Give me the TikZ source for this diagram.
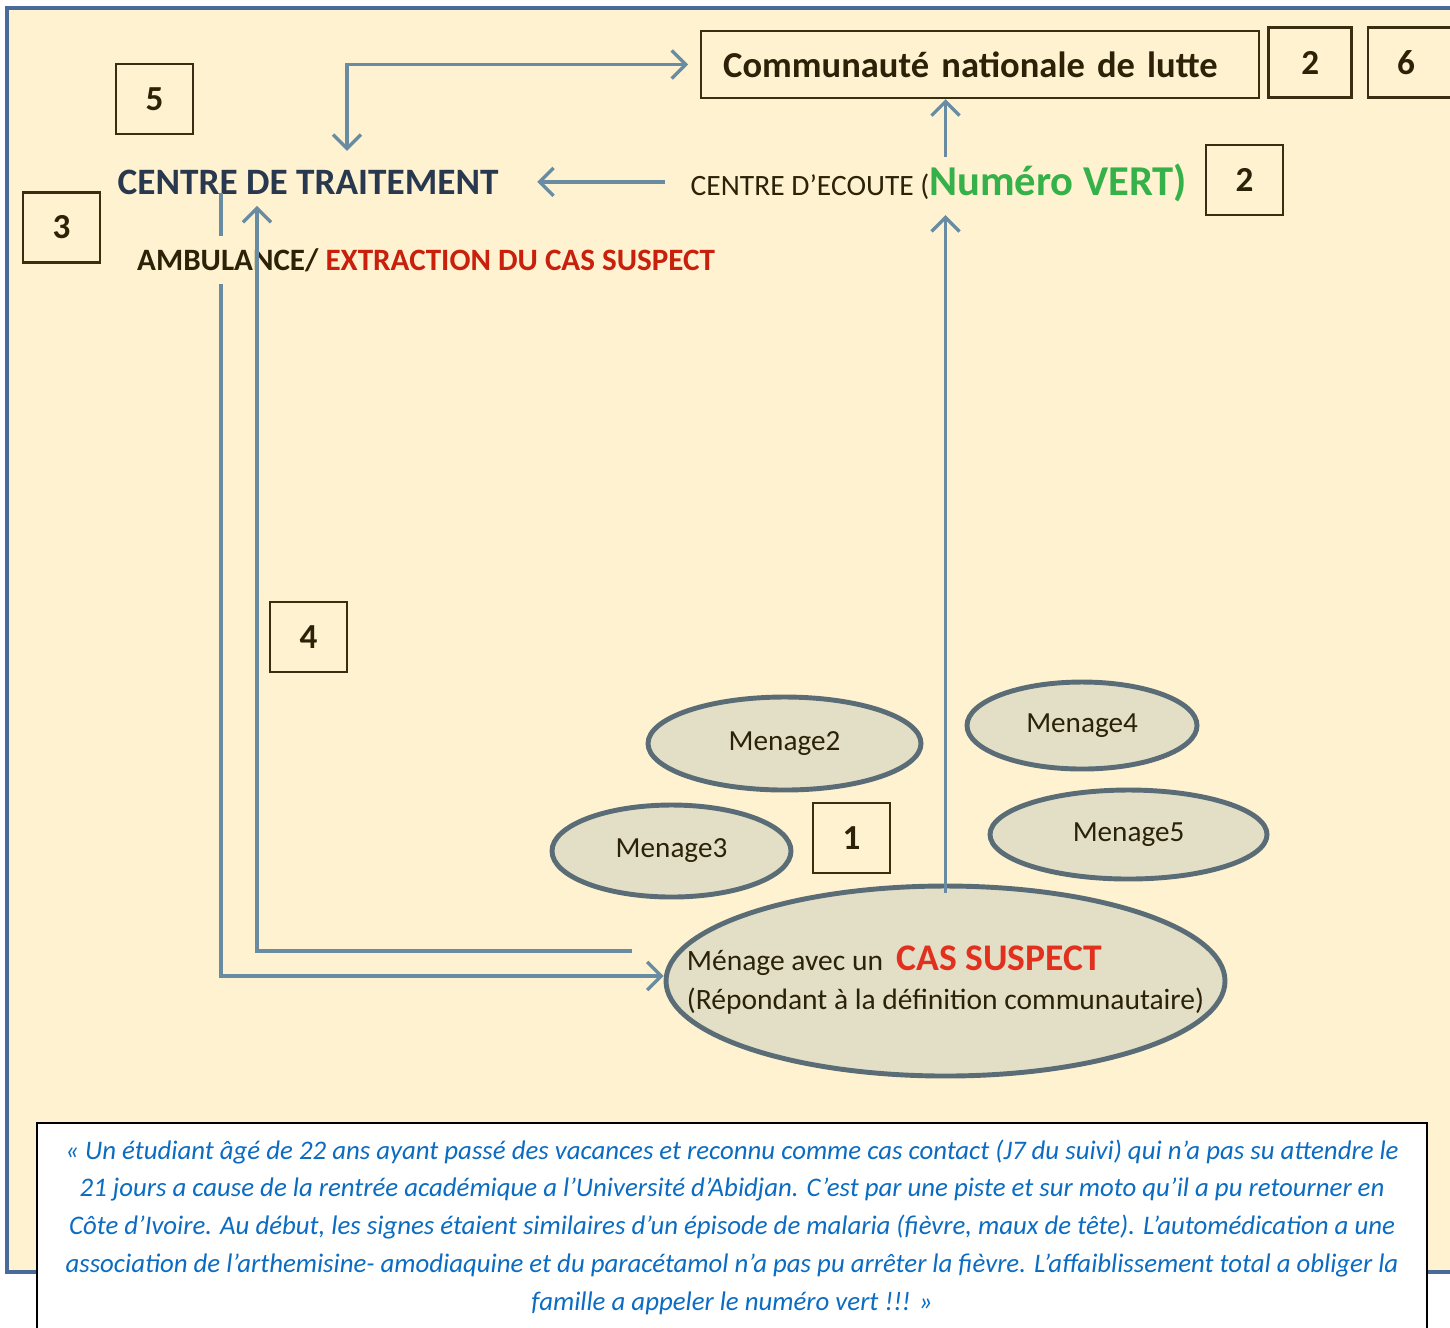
\documentclass[tikz,border=0pt]{standalone}
\usepackage{fontspec}
\setmainfont{Carlito}
\usetikzlibrary{arrows.meta,calc,positioning,shapes.geometric}
\definecolor{creme}{HTML}{FFF2D0}
\definecolor{cadre}{HTML}{4A6A99}
\definecolor{fleche}{HTML}{6A8CA2}
\definecolor{boxline}{HTML}{3A2E12}
\definecolor{ink}{HTML}{2B2208}
\definecolor{navy}{HTML}{28384F}
\definecolor{rouge}{HTML}{C8200C}
\definecolor{rougevif}{HTML}{E2301E}
\definecolor{vert}{HTML}{35B149}
\definecolor{ellfill}{HTML}{E3DFC7}
\definecolor{ellline}{HTML}{5A6D77}
\definecolor{citation}{HTML}{0B6CC2}
\begin{document}
\begin{tikzpicture}[font=\fontsize{8}{10}\selectfont, text=ink,
  >={Straight Barb[length=1.4mm,width=2.8mm]},
  numbox/.style={draw=boxline,line width=0.7pt,fill=creme,minimum width=0.77cm,minimum height=0.70cm,inner sep=0pt,font=\fontsize{10}{12}\selectfont\bfseries},
  menage/.style={ellipse,draw=ellline,line width=1.4pt,fill=ellfill,inner sep=0pt,font=\fontsize{8.3}{10}\selectfont},
  flow/.style={draw=fleche,line width=0.95pt}]
\useasboundingbox (0,0) rectangle (14.5,-13.27);
\clip (0,0) rectangle (14.5,-13.27);
\fill[white] (0,0) rectangle (14.5,-13.27);
\draw[fill=creme,draw=cadre,line width=0.9pt] (0.07,-0.08) rectangle (14.8,-12.72);

\node[anchor=base west,inner sep=0pt,font=\fontsize{10.6}{12}\selectfont\bfseries,text=navy] (traitement) at (1.17,-1.94) {CENTRE DE TRAITEMENT};
\node[draw=boxline,line width=0.7pt,fill=creme,anchor=west,text width=5.14cm,align=left,inner xsep=0.22cm,minimum height=0.67cm,font=\fontsize{10.4}{12}\selectfont\bfseries] (lutte) at (7.00,-0.645) {Communauté nationale de lutte};
\node[anchor=base west,inner sep=0pt] (ecoute) at (6.90,-1.95) {\fontsize{8.4}{9}\selectfont CENTRE D’ECOUTE (\textcolor{vert}{\fontsize{12.1}{13}\selectfont\bfseries Numéro VERT)}};

\node[numbox] (n5) at (1.545,-0.99) {5};
\node[numbox] (n3) at (0.615,-2.275) {3};
\node[numbox,minimum width=0.83cm,right=0.07cm of lutte,yshift=0.02cm] (n2a) {2};
\node[numbox,text width=0.5cm,align=left,inner xsep=0.29cm,right=0.14cm of n2a] (n6) {6};
\node[numbox] (n2b) at (12.445,-1.80) {2};
\node[numbox] (n4) at (3.085,-6.37) {4};
\node[numbox] (n1) at (8.515,-8.38) {1};

\node[menage,minimum width=2.73cm,minimum height=0.93cm] (m2) at (7.845,-7.435) {Menage2};
\node[menage,minimum width=2.30cm,minimum height=0.87cm] (m4) at (10.82,-7.255) {\raisebox{-0.5ex}{Menage4}};
\node[menage,minimum width=2.39cm,minimum height=0.92cm] (m3) at (6.715,-8.51) {Menage3};
\node[menage,minimum width=2.77cm,minimum height=0.89cm] (m5) at (11.285,-8.345) {Menage5};
\node[menage,minimum width=5.59cm,minimum height=1.90cm] (cas) at (9.455,-9.81) {};
\node[align=left,inner sep=0pt,font=\fontsize{8.4}{11}\selectfont] (castxt) at ($(cas.center)+(0,0.01)$) {Ménage avec un \ \textcolor{rougevif}{\fontsize{10.7}{11}\selectfont\bfseries CAS SUSPECT}\\(Répondant à la définition communautaire)};

\draw[flow,<->] ($(traitement.north west)+(2.30,0.18)$) |- ([xshift=-0.12cm]lutte.west);
\draw[flow,->] ($(traitement.east -| ecoute.west)+(-0.25,0)$) -- ($(traitement.east)+(0.38,0)$);
\draw[flow,->] ($(ecoute.north -| cas.north)+(0,0.06)$) -- (cas.north |- lutte.south);
\draw[flow,->] ([yshift=-0.09cm]cas.north) -- ($(cas.north |- ecoute.south)+(0,-0.13)$);
\draw[flow,->] ($(traitement.south west)+(1.04,0.02)$) |- ([yshift=0.05cm]cas.west);
\node[anchor=base west,inner xsep=1pt,inner ysep=3.5pt,fill=creme,font=\fontsize{8.85}{10}\selectfont\bfseries] (ambulance) at (1.33,-2.70) {AMBULANCE/ \textcolor{rouge}{EXTRACTION DU CAS SUSPECT}};
\coordinate (retour) at (6.32,-9.51);
\draw[flow,->] (retour) -| ($(traitement.south west)+(1.40,-0.11)$);

\draw[fill=white,line width=0.6pt] (0.37,-11.23) rectangle (14.27,-13.6);
\node[align=center,inner sep=0pt,text=citation,font=\fontsize{7.63}{10.72}\selectfont\itshape] (quote) at (7.32,-12.27) {« Un étudiant âgé de 22 ans ayant passé des vacances et reconnu comme cas contact (J7 du suivi) qui n’a pas su attendre le\\21 jours a cause de la rentrée académique a l’Université d’Abidjan. C’est par une piste et sur moto qu’il a pu retourner en\\Côte d’Ivoire. Au début, les signes étaient similaires d’un épisode de malaria (fièvre, maux de tête). L’automédication a une\\association de l’arthemisine- amodiaquine et du paracétamol n’a pas pu arrêter la fièvre. L’affaiblissement total a obliger la\\famille a appeler le numéro vert !!! »};
\end{tikzpicture}
\end{document}
